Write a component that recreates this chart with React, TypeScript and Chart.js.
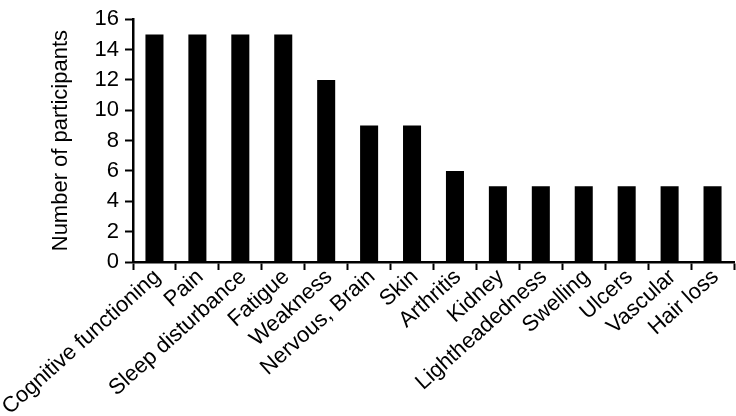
import React, { useEffect, useRef } from "react";
import { Chart, registerables } from "chart.js";

Chart.register(...registerables);

const categories = [
  "Cognitive functioning",
  "Pain",
  "Sleep disturbance",
  "Fatigue",
  "Weakness",
  "Nervous, Brain",
  "Skin",
  "Arthritis",
  "Kidney",
  "Lightheadedness",
  "Swelling",
  "Ulcers",
  "Vascular",
  "Hair loss",
];
const participants = [15, 15, 15, 15, 12, 9, 9, 6, 5, 5, 5, 5, 5, 5];
const yMin = 0;
const yMax = 16;
const yStep = 2;
const yTitle = "Number of participants";

export default function App() {
  const ref = useRef<HTMLCanvasElement | null>(null);
  useEffect(() => {
    if (!ref.current) return;
    const font = "'Liberation Sans', Arial, sans-serif";
    const chart = new Chart(ref.current, {
      type: "bar",
      data: {
        labels: categories,
        datasets: [
          {
            data: participants,
            backgroundColor: "#000000",
            borderWidth: 0,
            barPercentage: 0.42,
            categoryPercentage: 1,
          },
        ],
      },
      options: {
        animation: false,
        responsive: false,
        maintainAspectRatio: false,
        layout: { padding: { top: 0, right: 2, bottom: 0, left: 0 } },
        plugins: { legend: { display: false }, tooltip: { enabled: false } },
        scales: {
          x: {
            grid: {
              display: true,
              drawOnChartArea: false,
              drawTicks: true,
              tickLength: 8,
              tickWidth: 2,
              color: "#000000",
              offset: true,
            },
            border: { display: true, color: "#000000", width: 2.5 },
            ticks: {
              color: "#000000",
              font: { family: font, size: 22 },
              maxRotation: 42,
              minRotation: 42,
              autoSkip: false,
              padding: -6,
              labelOffset: 3,
            },
            afterFit: (scale: any) => {
              scale.height = 154;
            },
          },
          y: {
            min: yMin,
            max: yMax,
            grid: {
              display: true,
              drawOnChartArea: false,
              drawTicks: true,
              tickLength: 8,
              tickWidth: 2,
              color: "#000000",
            },
            border: { display: true, color: "#000000", width: 2.5 },
            ticks: {
              stepSize: yStep,
              color: "#000000",
              font: { family: font, size: 22 },
              padding: 6,
            },
            title: {
              display: true,
              text: yTitle,
              color: "#000000",
              font: { family: font, size: 22 },
              padding: { top: 48, bottom: 0 },
            },
            afterFit: (scale: any) => {
              scale.width = 133;
            },
          },
        },
      },
    });
    return () => chart.destroy();
  }, []);
  return (
    <div style={{ position: "fixed", left: 0, top: 0, width: 736, height: 416, background: "#fff" }}>
      <canvas ref={ref} width={736} height={416} style={{ display: "block" }} />
    </div>
  );
}
